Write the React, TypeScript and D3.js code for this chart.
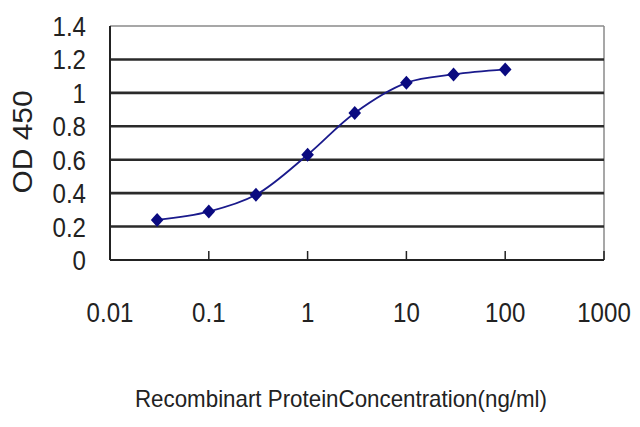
import { useEffect, useRef } from 'react'
import * as d3 from 'd3'

// concentration (ng/ml) and OD 450 readings
const conc = [0.03, 0.1, 0.3, 1, 3, 10, 30, 100]
const od = [0.24, 0.29, 0.39, 0.63, 0.88, 1.06, 1.11, 1.14]

const xTicks = [0.01, 0.1, 1, 10, 100, 1000]
const xTickLabels = ['0.01', '0.1', '1', '10', '100', '1000']
const yTicks = [0, 0.2, 0.4, 0.6, 0.8, 1, 1.2, 1.4]
const yTickLabels = ['0', '0.2', '0.4', '0.6', '0.8', '1', '1.2', '1.4']

const xTitle = 'Recombinart ProteinConcentration(ng/ml)'
const yTitle = 'OD 450'

// square turned 45deg, slightly taller than wide like the Excel marker
const diamond = {
  draw(ctx: any, size: number) {
    const h = Math.sqrt(size) / 2
    const w = h * 0.9
    ctx.moveTo(0, -h)
    ctx.lineTo(w, 0)
    ctx.lineTo(0, h)
    ctx.lineTo(-w, 0)
    ctx.closePath()
  },
}

export default function App() {
  const svgRef = useRef<SVGSVGElement>(null)

  useEffect(() => {
    const svg = d3.select(svgRef.current)
    svg.selectAll('*').remove()

    const W = 640, H = 427
    const left = 110, right = 604, top = 26, bottom = 260
    const font = '"Liberation Sans", Arial, sans-serif'
    const sx = 0.86 // narrow the tick digits like the original

    const x = d3.scaleLog().domain([0.01, 1000]).range([left, right])
    const y = d3.scaleLinear().domain([0, 1.4]).range([bottom, top])

    svg.attr('width', W).attr('height', H)
    svg.append('rect').attr('width', W).attr('height', H).attr('fill', '#fff')

    // plot frame top/right (light)
    svg.append('line').attr('x1', left).attr('x2', right).attr('y1', top).attr('y2', top)
      .attr('stroke', '#8a8a8a').attr('stroke-width', 1.5)
    svg.append('line').attr('x1', right).attr('x2', right).attr('y1', top).attr('y2', bottom)
      .attr('stroke', '#8a8a8a').attr('stroke-width', 1.5)

    // gridlines
    yTicks.filter((t) => t > 0 && t < 1.4).forEach((t) => {
      svg.append('line').attr('x1', left).attr('x2', right).attr('y1', y(t)).attr('y2', y(t))
        .attr('stroke', '#2a2a2a').attr('stroke-width', 2.6)
    })

    // axes
    svg.append('line').attr('x1', left).attr('x2', left).attr('y1', top).attr('y2', bottom)
      .attr('stroke', '#222').attr('stroke-width', 2)
    svg.append('line').attr('x1', left).attr('x2', right).attr('y1', bottom).attr('y2', bottom)
      .attr('stroke', '#222').attr('stroke-width', 2)

    // x tick marks (inside, upward)
    xTicks.slice(1).forEach((t) => {
      svg.append('line').attr('x1', x(t)).attr('x2', x(t)).attr('y1', bottom).attr('y2', bottom - 9)
        .attr('stroke', '#222').attr('stroke-width', 1.5)
    })

    // y tick labels
    yTicks.forEach((t, i) => {
      svg.append('text').attr('transform', `translate(86,${y(t) + 10}) scale(${sx},1)`)
        .attr('text-anchor', 'end').attr('font-family', font).attr('font-size', 28)
        .attr('fill', '#222').text(yTickLabels[i])
    })

    // x tick labels
    xTicks.forEach((t, i) => {
      svg.append('text').attr('transform', `translate(${x(t)},322) scale(${sx},1)`)
        .attr('text-anchor', 'middle').attr('font-family', font).attr('font-size', 28)
        .attr('fill', '#222').text(xTickLabels[i])
    })

    // axis titles
    svg.append('text').attr('transform', 'translate(32,142) rotate(-90)')
      .attr('text-anchor', 'middle').attr('font-family', font).attr('font-size', 27)
      .attr('textLength', 103).attr('lengthAdjust', 'spacingAndGlyphs')
      .attr('fill', '#222').text(yTitle)
    svg.append('text').attr('x', 341).attr('y', 407)
      .attr('text-anchor', 'middle').attr('font-family', font).attr('font-size', 24)
      .attr('textLength', 412).attr('lengthAdjust', 'spacingAndGlyphs')
      .attr('fill', '#222').text(xTitle)

    // smoothed curve
    const pts: [number, number][] = conc.map((c, i) => [x(c), y(od[i])])
    const line = d3.line().curve(d3.curveCatmullRom.alpha(0.5))
    svg.append('path').attr('d', line(pts))
      .attr('fill', 'none').attr('stroke', '#1a1a8c').attr('stroke-width', 1.8)

    // diamond markers
    const sym = d3.symbol().type(diamond as any).size(196)
    pts.forEach(([px, py]) => {
      svg.append('path').attr('d', sym()).attr('transform', `translate(${px},${py})`)
        .attr('fill', '#0a0a80')
    })
  }, [])

  return (
    <svg ref={svgRef} style={{ position: 'absolute', left: 0, top: 0, display: 'block' }} />
  )
}
